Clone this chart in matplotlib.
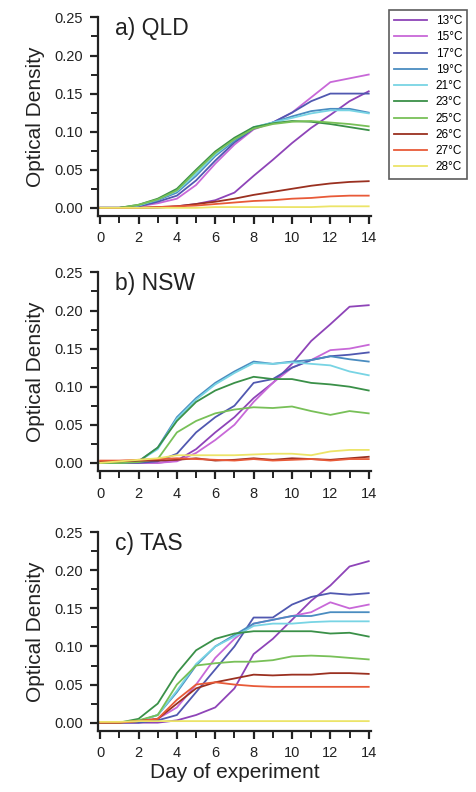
import numpy as np
import matplotlib.pyplot as plt
from matplotlib.ticker import MultipleLocator

plt.rcParams['font.family'] = ['Liberation Sans', 'DejaVu Sans']

days = np.arange(0, 15)
temps = ['13°C', '15°C', '17°C', '19°C', '21°C', '23°C', '25°C', '26°C', '27°C', '28°C']
colors = ['#8e44b8', '#c868d8', '#5058b0', '#4a8cc0', '#78d4e4',
          '#3a9048', '#78c058', '#9a3020', '#e85a38', '#ece468']

# Optical density per day (0..14), one list per temperature
qld = [
    [0, 0, 0, 0, 0.002, 0.005, 0.010, 0.020, 0.042, 0.063, 0.085, 0.105, 0.122, 0.140, 0.153],
    [0, 0, 0.002, 0.006, 0.012, 0.030, 0.058, 0.083, 0.103, 0.112, 0.125, 0.145, 0.165, 0.170, 0.175],
    [0, 0, 0.002, 0.008, 0.016, 0.036, 0.062, 0.086, 0.104, 0.112, 0.125, 0.140, 0.150, 0.150, 0.150],
    [0, 0, 0.003, 0.010, 0.020, 0.042, 0.068, 0.088, 0.105, 0.112, 0.120, 0.127, 0.130, 0.130, 0.125],
    [0, 0, 0.003, 0.011, 0.022, 0.045, 0.070, 0.090, 0.106, 0.112, 0.118, 0.124, 0.128, 0.128, 0.124],
    [0, 0, 0.004, 0.012, 0.025, 0.050, 0.074, 0.092, 0.106, 0.111, 0.114, 0.113, 0.110, 0.106, 0.102],
    [0, 0, 0.004, 0.011, 0.023, 0.048, 0.072, 0.090, 0.104, 0.110, 0.113, 0.114, 0.112, 0.110, 0.107],
    [0, 0, 0, 0.001, 0.002, 0.005, 0.008, 0.012, 0.017, 0.021, 0.025, 0.029, 0.032, 0.034, 0.035],
    [0, 0, 0, 0.001, 0.002, 0.003, 0.005, 0.007, 0.009, 0.010, 0.012, 0.013, 0.015, 0.016, 0.016],
    [0, 0, 0, 0, 0, 0, 0.001, 0.001, 0.001, 0.001, 0.001, 0.001, 0.002, 0.002, 0.002],
]

nsw = [
    [0, 0, 0, 0, 0.003, 0.018, 0.040, 0.060, 0.085, 0.105, 0.130, 0.160, 0.182, 0.205, 0.207],
    [0, 0, 0, 0, 0.002, 0.013, 0.030, 0.050, 0.080, 0.105, 0.125, 0.135, 0.148, 0.150, 0.155],
    [0, 0, 0, 0.002, 0.012, 0.040, 0.060, 0.075, 0.105, 0.110, 0.125, 0.135, 0.140, 0.142, 0.145],
    [0, 0, 0.002, 0.020, 0.060, 0.085, 0.105, 0.120, 0.133, 0.130, 0.133, 0.135, 0.140, 0.136, 0.133],
    [0, 0, 0.002, 0.018, 0.058, 0.083, 0.103, 0.118, 0.131, 0.130, 0.132, 0.130, 0.128, 0.120, 0.115],
    [0, 0, 0.002, 0.020, 0.055, 0.080, 0.095, 0.105, 0.113, 0.110, 0.110, 0.105, 0.103, 0.100, 0.095],
    [0, 0, 0.001, 0.005, 0.040, 0.055, 0.065, 0.070, 0.073, 0.072, 0.074, 0.068, 0.063, 0.068, 0.065],
    [0.002, 0.002, 0.003, 0.003, 0.004, 0.006, 0.003, 0.004, 0.006, 0.004, 0.006, 0.005, 0.004, 0.006, 0.008],
    [0.003, 0.003, 0.004, 0.005, 0.006, 0.005, 0.004, 0.003, 0.005, 0.003, 0.004, 0.005, 0.003, 0.005, 0.005],
    [0, 0.002, 0.004, 0.006, 0.010, 0.010, 0.010, 0.010, 0.011, 0.012, 0.012, 0.010, 0.015, 0.017, 0.017],
]

tas = [
    [0, 0, 0, 0, 0.003, 0.010, 0.020, 0.045, 0.090, 0.110, 0.135, 0.160, 0.180, 0.205, 0.212],
    [0, 0, 0, 0.005, 0.020, 0.050, 0.085, 0.110, 0.130, 0.135, 0.140, 0.145, 0.158, 0.150, 0.155],
    [0, 0, 0, 0.003, 0.010, 0.040, 0.070, 0.100, 0.138, 0.138, 0.155, 0.165, 0.170, 0.168, 0.170],
    [0, 0, 0.002, 0.010, 0.040, 0.075, 0.100, 0.115, 0.130, 0.135, 0.140, 0.140, 0.145, 0.145, 0.145],
    [0, 0, 0.002, 0.010, 0.042, 0.077, 0.100, 0.113, 0.127, 0.130, 0.130, 0.132, 0.133, 0.133, 0.133],
    [0, 0, 0.005, 0.025, 0.065, 0.095, 0.110, 0.117, 0.120, 0.120, 0.120, 0.120, 0.117, 0.118, 0.113],
    [0, 0, 0.003, 0.010, 0.050, 0.075, 0.078, 0.080, 0.080, 0.082, 0.087, 0.088, 0.087, 0.085, 0.083],
    [0, 0, 0.002, 0.005, 0.025, 0.045, 0.053, 0.058, 0.063, 0.062, 0.063, 0.063, 0.065, 0.065, 0.064],
    [0, 0, 0.002, 0.005, 0.030, 0.050, 0.053, 0.050, 0.048, 0.047, 0.047, 0.047, 0.047, 0.047, 0.047],
    [0.001, 0.001, 0.002, 0.002, 0.002, 0.002, 0.002, 0.002, 0.002, 0.002, 0.002, 0.002, 0.002, 0.002, 0.002],
]

panels = [('a) QLD', qld), ('b) NSW', nsw), ('c) TAS', tas)]
bottoms = [0.727, 0.405, 0.077]

fig = plt.figure(figsize=(4.77, 7.92), dpi=100)
text_col = '#222222'

for (title, data), bot in zip(panels, bottoms):
    ax = fig.add_axes([0.206, bot, 0.571, 0.251])
    for vals, c, t in zip(data, colors, temps):
        ax.plot(days, vals, color=c, lw=1.3, label=t)
    ax.set_xlim(-0.1, 14.1)
    ax.set_ylim(-0.011, 0.25)
    ax.xaxis.set_major_locator(MultipleLocator(2))
    ax.xaxis.set_minor_locator(MultipleLocator(1))
    ax.yaxis.set_minor_locator(MultipleLocator(0.025))
    ax.set_yticks(np.arange(0, 0.26, 0.05))
    ax.set_yticklabels(['%.2f' % v for v in np.arange(0, 0.26, 0.05)])
    ax.spines['top'].set_visible(False)
    ax.spines['right'].set_visible(False)
    for s in ['left', 'bottom']:
        ax.spines[s].set_linewidth(1.6)
        ax.spines[s].set_color(text_col)
    ax.tick_params(which='major', direction='out', length=6, width=1.6,
                   labelsize=10.5, colors=text_col)
    ax.tick_params(which='minor', direction='out', length=5, width=1.4, colors=text_col)
    ax.tick_params(axis='x', which='major', pad=5)
    ax.tick_params(axis='y', which='major', pad=5)
    ax.set_ylabel('Optical Density', fontsize=15, color=text_col, labelpad=7)
    ax.text(0.06, 1.0, title, transform=ax.transAxes, fontsize=16.5,
            color=text_col, va='top', ha='left')
    if title.startswith('c'):
        ax.set_xlabel('Day of experiment', fontsize=15, color=text_col, labelpad=2)

handles, labels = ax.get_legend_handles_labels()
leg = fig.legend(handles, labels, loc='upper left', bbox_to_anchor=(0.803, 0.995),
                 fontsize=8.5, frameon=True, fancybox=False, handlelength=2.8,
                 labelspacing=0.36, borderpad=0.45, handletextpad=0.7)
leg.get_frame().set_edgecolor('#333333')
leg.get_frame().set_linewidth(1.2)

fig.savefig('out.png', dpi=100)
